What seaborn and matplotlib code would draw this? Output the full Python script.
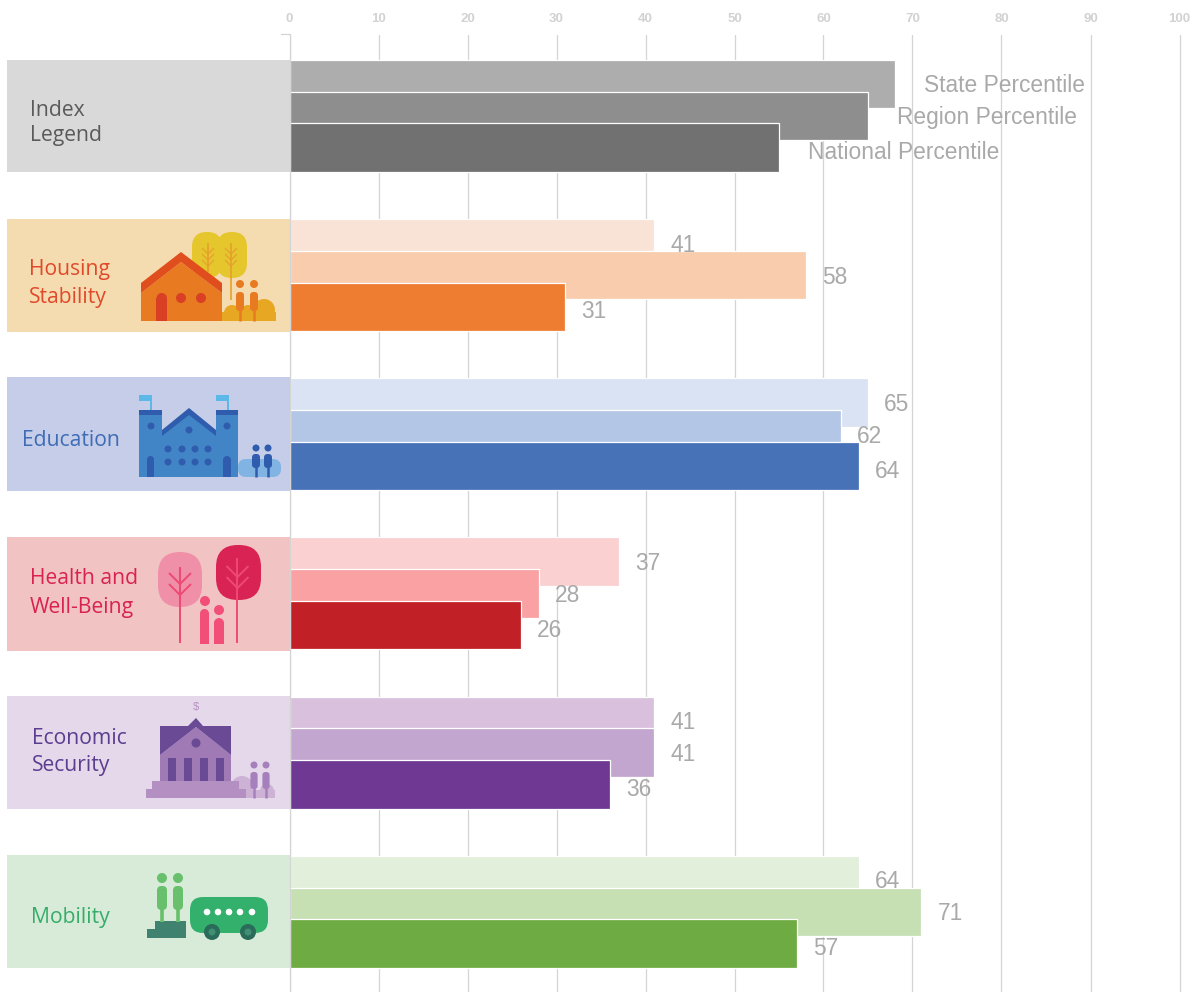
import pandas as pd
import matplotlib.pyplot as plt
from matplotlib.patches import Circle, FancyBboxPatch, Polygon, Rectangle
import seaborn as sns

# chart values
groups = ['Index Legend', 'Housing Stability', 'Education', 'Health and Well-Being', 'Economic Security', 'Mobility']
tiers = ['State Percentile', 'Region Percentile', 'National Percentile']
state_vals = [68, 41, 65, 37, 41, 64]
region_vals = [65, 58, 62, 28, 41, 71]
national_vals = [55, 31, 64, 26, 36, 57]
x_ticks = [0, 10, 20, 30, 40, 50, 60, 70, 80, 90, 100]

state_colors = ['#adadad', '#f9e3d6', '#dae3f3', '#fbd0d1', '#d9c1de', '#e2efda']
region_colors = ['#8e8e8e', '#f9ccae', '#b4c6e6', '#f9a1a3', '#c3a6cf', '#c6e0b4']
national_colors = ['#717171', '#ee7d31', '#4872b8', '#c02026', '#6e3893', '#6fab43']

panel_colors = ['#d9d9d9', '#f5dcb0', '#c5cde8', '#f1c4c3', '#e5d8ea', '#d8ebd9']
panel_text_colors = ['#5a5a5a', '#e0492a', '#3f6db5', '#d8234f', '#5c3d8f', '#35ad69']
panel_lines = [['Index', 'Legend'], ['Housing', 'Stability'], ['Education'],
               ['Health and', 'Well-Being'], ['Economic', 'Security'], ['Mobility']]

# pixel layout of the left panels
panel_tops = [60, 219, 377, 537, 696, 855]
panel_bottoms = [172, 332, 491, 651, 809, 968]
text_x = [30, 29, 22, 30, 32, 31]
text_y = [[110, 136], [270, 298], [440], [579, 607], [738, 766], [917]]

GRID = '#d4d4d4'
LABEL = '#a9a9a9'
W, H = 1195, 992

sns.set_theme(style='white')
plt.rcParams['font.family'] = ['Liberation Sans', 'DejaVu Sans']

fig = plt.figure(figsize=(W / 100, H / 100), dpi=100)

# full figure axes in pixels for the panels and the icons
bg = fig.add_axes([0, 0, 1, 1], zorder=0)
bg.set_xlim(0, W)
bg.set_ylim(H, 0)
bg.axis('off')


def rect(x0, y0, x1, y1, c):
    bg.add_patch(Rectangle((x0, y0), x1 - x0, y1 - y0, fc=c, ec='none'))


def poly(pts, c):
    bg.add_patch(Polygon(pts, closed=True, fc=c, ec='none'))


def dot(x, y, r, c):
    bg.add_patch(Circle((x, y), r, fc=c, ec='none'))


def rounded(x0, y0, x1, y1, r, c):
    bg.add_patch(FancyBboxPatch((x0 + r, y0 + r), x1 - x0 - 2 * r, y1 - y0 - 2 * r,
                                boxstyle='round,pad=%f,rounding_size=%f' % (r, r), fc=c, ec='none'))


def stroke(xs, ys, c, lw=1.2):
    bg.plot(xs, ys, color=c, lw=lw, solid_capstyle='butt')


def person(x, head_y, body_top, body_bottom, feet, half_w, head_r, c, leg=1.8):
    dot(x, head_y, head_r, c)
    rounded(x - half_w, body_top, x + half_w, body_bottom, half_w * 0.9, c)
    stroke([x, x], [body_bottom - 1, feet], c, lw=leg)


def branches(x, y, n, spread, step, c, lw=1.1):
    for i in range(n):
        yy = y + i * step
        stroke([x - spread, x, x + spread], [yy, yy + spread, yy], c, lw)


def door(x0, x1, y0, y1, c):
    r = (x1 - x0) / 2
    rect(x0, y0 + r, x1, y1, c)
    dot((x0 + x1) / 2, y0 + r, r, c)


for i in range(len(groups)):
    rect(7, panel_tops[i], 290, panel_bottoms[i], panel_colors[i])
    for line, y in zip(panel_lines[i], text_y[i]):
        bg.text(text_x[i], y, line, color=panel_text_colors[i], fontsize=15.2,
                va='center', ha='left', family=['Open Sans', 'DejaVu Sans'])

# housing icon
rounded(192, 232, 222, 278, 15, '#e5c62d')
rounded(217, 232, 247, 278, 15, '#e5c62d')
stroke([208, 208], [243, 272], '#e5a02d')
stroke([231, 231], [243, 300], '#e5a02d')
branches(208, 248, 3, 6, 6, '#e5a02d', 0.9)
branches(231, 248, 3, 6, 6, '#e5a02d', 0.9)
dot(264, 321 - 11, 11, '#e8a722')
dot(232, 313, 8, '#e8a722')
dot(248, 313, 8, '#e8a722')
rect(222, 312, 276, 321, '#e8a722')
rect(276, 312, 290, 322, panel_colors[1])
poly([(141, 293), (181, 262), (222, 293), (222, 321), (141, 321)], '#e87a22')
poly([(141, 283), (181, 252), (222, 283), (222, 293), (181, 262), (141, 293)], '#e04e1e')
door(156.5, 167, 293, 321, '#d83f25')
dot(181, 298, 5, '#d83f25')
dot(201, 298, 5, '#d83f25')
person(240, 284, 292, 311, 321, 4, 4, '#e87a22')
person(254, 284, 292, 311, 321, 4, 4, '#e87a22')

# education icon
stroke([151, 151], [395, 410], '#5bb8e8', 1.4)
stroke([228, 228], [395, 410], '#5bb8e8', 1.4)
rect(139, 395, 151, 401, '#5bb8e8')
rect(216, 395, 228, 401, '#5bb8e8')
rounded(238, 459, 281, 477, 8, '#82b4e3')
poly([(162, 432), (189, 412), (216, 432), (216, 477), (162, 477)], '#4285c7')
poly([(162, 430), (189, 408), (216, 430), (216, 436), (189, 415), (162, 436)], '#2f5cad')
rect(139, 410, 162, 477, '#4285c7')
rect(216, 410, 238, 477, '#4285c7')
rect(139, 410, 162, 415, '#2f5cad')
rect(216, 410, 238, 415, '#2f5cad')
dot(151, 426, 3.5, '#2f5cad')
dot(227, 426, 3.5, '#2f5cad')
dot(189, 430, 3.5, '#2f5cad')
for wx in [168, 182, 195, 208]:
    dot(wx, 449, 3.5, '#2f5cad')
    dot(wx, 462, 3.5, '#2f5cad')
door(147, 154, 456, 477, '#2f5cad')
door(223, 231, 456, 477, '#2f5cad')
person(256, 448, 454, 468, 477, 4, 3.5, '#2f5cad')
person(268, 448, 454, 468, 477, 4, 3.5, '#2f5cad')

# health icon
rounded(158, 552, 202, 607, 22, '#f08fa8')
rounded(216, 545, 261, 600, 22, '#d92354')
stroke([180, 180], [567, 643], '#ee4a73', 1.4)
stroke([237.5, 237.5], [558, 643], '#ee4a73', 1.4)
branches(180, 573, 2, 11, 11, '#ee4a73', 1.4)
branches(237.5, 566, 2, 11, 11, '#ee4a73', 1.4)
dot(205, 601, 5, '#f24f78')
door(200, 209, 609, 644, '#f24f78')
dot(219, 610, 5, '#f24f78')
door(214, 224, 618, 644, '#f24f78')

# economic security icon
dot(242, 787, 11, '#cdb2d6')
dot(267, 791, 7, '#cdb2d6')
rect(232, 790, 275, 798, '#cdb2d6')
poly([(160, 755), (196, 727), (231, 755), (231, 781), (160, 781)], '#9f7ab5')
poly([(160, 726), (188, 726), (196, 718), (203, 726), (231, 726), (231, 755), (196, 727), (160, 755)], '#6a4a94')
dot(196, 743, 4.5, '#6a4a94')
for cx in [168, 184, 200, 216]:
    rect(cx, 758, cx + 8, 781, '#6a4a94')
rect(152, 781, 239, 789, '#b48fc2')
rect(146, 789, 246, 798, '#b48fc2')
bg.text(196, 707, '$', color='#b48fc2', fontsize=8, ha='center', va='center')
person(254, 765, 772, 789, 798, 3.6, 3.5, '#a680bc')
person(266, 765, 772, 789, 798, 3.6, 3.5, '#a680bc')

# mobility icon
person(162, 878, 886, 910, 922, 5, 5, '#68bf6c', leg=2.6)
person(178, 878, 886, 910, 922, 5, 5, '#68bf6c', leg=2.6)
poly([(155, 921), (186, 921), (186, 938), (147, 938), (147, 929), (155, 929)], '#3f8270')
rounded(190, 897, 268, 933, 13, '#33b06c')
for wx in [207, 218, 229, 240, 252]:
    dot(wx, 912, 3.3, 'white')
for wx in [212, 248]:
    dot(wx, 932, 8, '#2a6b5a')
    dot(wx, 932, 3.5, '#3f8f72')

# small tick left of the zero line
bg.plot([281, 290], [34, 34], color=GRID, lw=0.9)

# bar table, one row per bar
rows = []
for g in range(len(groups)):
    for t, (vals, cols) in enumerate([(state_vals, state_colors), (region_vals, region_colors),
                                      (national_vals, national_colors)]):
        rows.append({'key': groups[g] + '/' + tiers[t], 'group': g, 'tier': t,
                     'pos': round(g + t * 0.2, 3), 'value': vals[g], 'color': cols[g]})
df = pd.DataFrame(rows)
palette = dict(zip(df['key'], df['color']))

# 8.9 px per percentile point, 159.2 px per group
left = 289.5
ax = fig.add_axes([left / W, 0, 1 - left / W, 1 - 35 / H], zorder=1)
ax.patch.set_alpha(0)
sns.barplot(data=df, x='value', y='pos', hue='key', palette=palette, orient='y', native_scale=True,
            dodge=False, legend=False, errorbar=None, width=1.52, saturation=1,
            edgecolor='white', linewidth=0.9, ax=ax)
ax.set_xlim(0, (W - left) / 8.9)
ax.set_ylim((H - 84) / 159.2, (35 - 84) / 159.2)

ax.set_xticks(x_ticks)
ax.set_yticks([])
ax.set_xlabel('')
ax.set_ylabel('')
ax.xaxis.tick_top()
ax.tick_params(axis='x', length=0, pad=7, labelsize=9.5, labelcolor='#d2d2d2')
for lab in ax.get_xticklabels():
    lab.set_fontweight('bold')
ax.grid(axis='x', color=GRID, lw=0.9)
ax.set_axisbelow(True)
for side in ['top', 'right', 'bottom']:
    ax.spines[side].set_visible(False)
ax.spines['left'].set_color(GRID)
ax.spines['left'].set_linewidth(0.9)

# value labels, the legend row carries the tier names instead
for _, r in df.iterrows():
    if r['group'] == 0:
        text = tiers[r['tier']]
        dx = 29
        size = 16.4
    else:
        text = str(r['value'])
        dx = 16
        size = 16.4
    dy = -5 if r['tier'] == 2 else -2
    ax.annotate(text, (r['value'], r['pos']), xytext=(dx * 0.72, dy * 0.72), textcoords='offset points',
                va='center', ha='left', color=LABEL, fontsize=size)

fig.savefig('out.png', dpi=100)
